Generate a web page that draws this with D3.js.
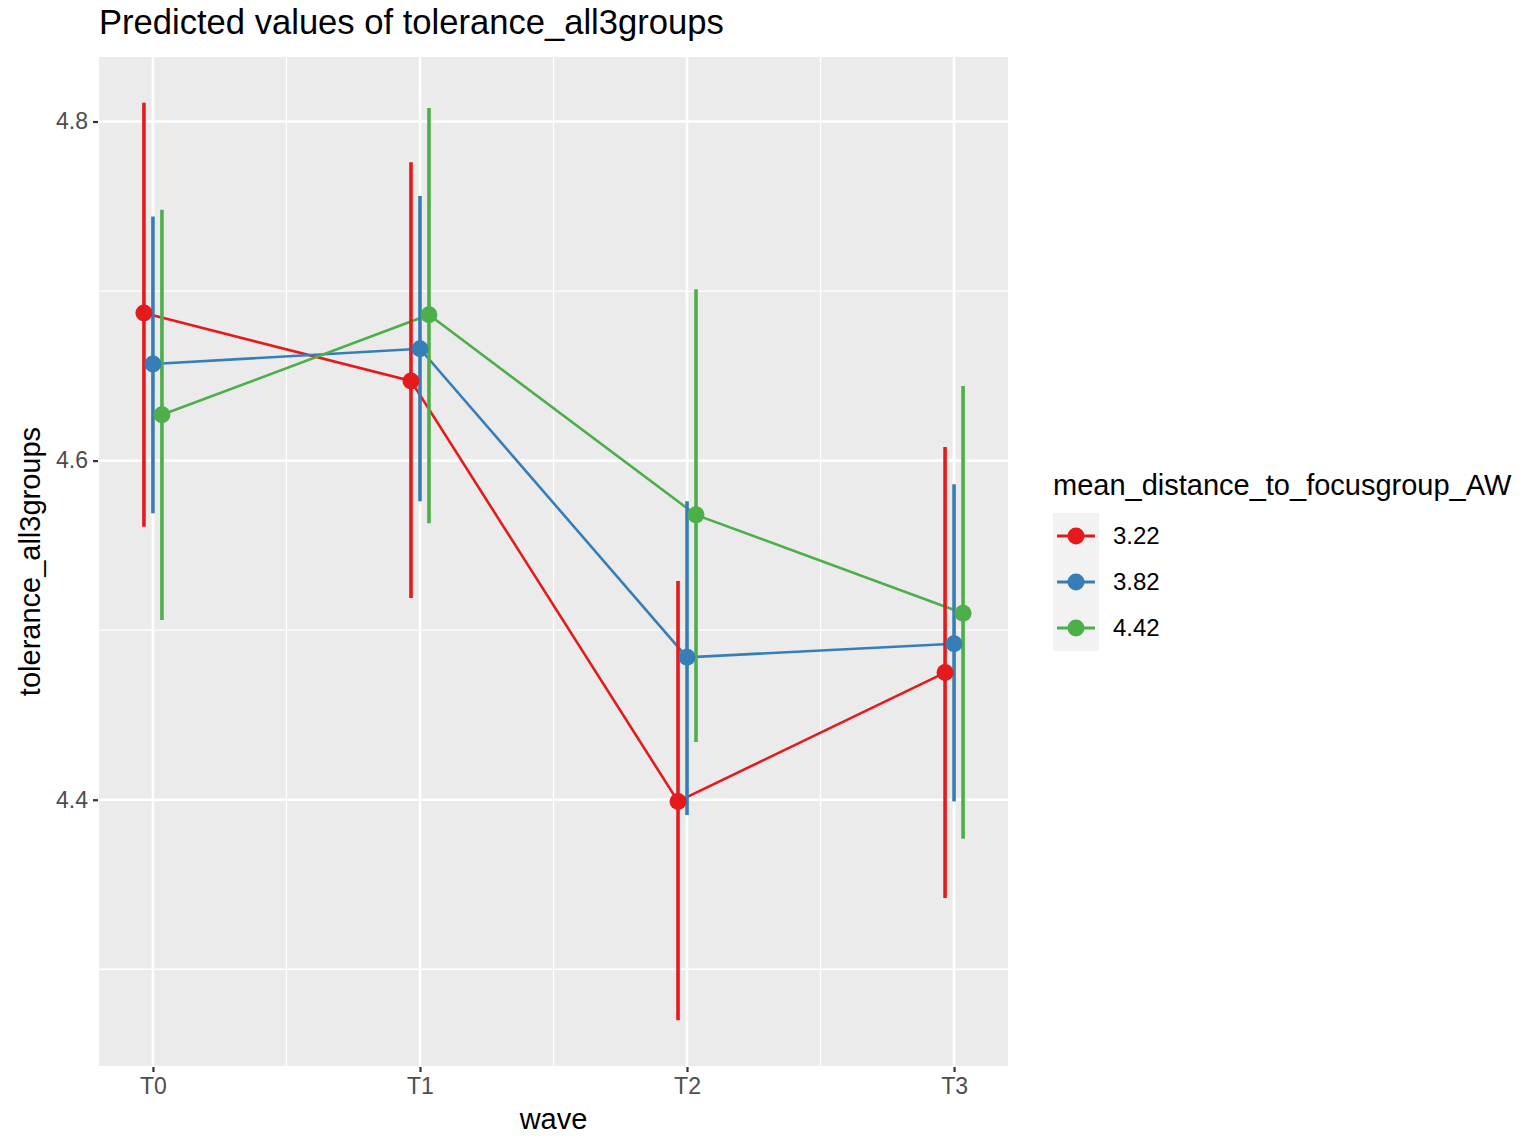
<!DOCTYPE html>
<html>
<head>
<meta charset="utf-8">
<script src="https://cdn.jsdelivr.net/npm/d3@7"></script>
<style>
  html, body { margin: 0; padding: 0; background: #ffffff; }
  svg { display: block; font-family: "Liberation Sans", Arial, sans-serif; }
</style>
</head>
<body>
<svg id="chart" width="1522" height="1139"></svg>
<script>
// Predicted values with 95% intervals, one series per moderator level
const waves = ["T0", "T1", "T2", "T3"];
const groups = ["3.22", "3.82", "4.42"];
const groupColors = ["#E41A1C", "#377EB8", "#4DAF4A"];

const predicted = {
  "3.22": [4.687, 4.647, 4.399, 4.475],
  "3.82": [4.657, 4.666, 4.484, 4.492],
  "4.42": [4.627, 4.686, 4.568, 4.510]
};
const lower = {
  "3.22": [4.561, 4.519, 4.270, 4.342],
  "3.82": [4.569, 4.576, 4.391, 4.399],
  "4.42": [4.506, 4.563, 4.434, 4.377]
};
const upper = {
  "3.22": [4.811, 4.776, 4.529, 4.608],
  "3.82": [4.744, 4.756, 4.576, 4.586],
  "4.42": [4.748, 4.808, 4.701, 4.644]
};
const yMajorTicks = [4.4, 4.6, 4.8];
const yMinorTicks = [4.3, 4.5, 4.7];

const titleText = "Predicted values of tolerance_all3groups";
const xTitle = "wave";
const yTitle = "tolerance_all3groups";
const legendTitle = "mean_distance_to_focusgroup_AW";

// Panel geometry
const panel = { left: 99, right: 1008, top: 57, bottom: 1066 };

const svg = d3.select("#chart");

// Scales
const x = d3.scalePoint().domain(waves).range([panel.left, panel.right]).padding(0.202);
const dodgeStep = x.step() * 0.0337;
const dodge = d3.scaleOrdinal().domain(groups).range([-dodgeStep, 0, dodgeStep]);
const color = d3.scaleOrdinal().domain(groups).range(groupColors);

const allLo = d3.min(groups, g => d3.min(lower[g]));
const allHi = d3.max(groups, g => d3.max(upper[g]));
const pad = (allHi - allLo) * 0.05;
const y = d3.scaleLinear().domain([allLo - pad, allHi + pad]).range([panel.bottom, panel.top]);

// Panel background
svg.append("rect")
  .attr("x", panel.left).attr("y", panel.top)
  .attr("width", panel.right - panel.left).attr("height", panel.bottom - panel.top)
  .attr("fill", "#EBEBEB");

const grid = svg.append("g");
// Minor horizontal grid
grid.selectAll(".hmin").data(yMinorTicks).join("line")
  .attr("x1", panel.left).attr("x2", panel.right)
  .attr("y1", d => y(d)).attr("y2", d => y(d))
  .attr("stroke", "#ffffff").attr("stroke-width", 1.3);
// Minor vertical grid between waves
const midpoints = waves.slice(1).map((w, i) => (x(waves[i]) + x(w)) / 2);
grid.selectAll(".vmin").data(midpoints).join("line")
  .attr("x1", d => d).attr("x2", d => d)
  .attr("y1", panel.top).attr("y2", panel.bottom)
  .attr("stroke", "#ffffff").attr("stroke-width", 1.3);
// Major grid
grid.selectAll(".hmaj").data(yMajorTicks).join("line")
  .attr("x1", panel.left).attr("x2", panel.right)
  .attr("y1", d => y(d)).attr("y2", d => y(d))
  .attr("stroke", "#ffffff").attr("stroke-width", 2.6);
grid.selectAll(".vmaj").data(waves).join("line")
  .attr("x1", d => x(d)).attr("x2", d => x(d))
  .attr("y1", panel.top).attr("y2", panel.bottom)
  .attr("stroke", "#ffffff").attr("stroke-width", 2.6);

// Axes
const yAxis = d3.axisLeft(y).tickValues(yMajorTicks).tickSize(5).tickPadding(5).tickFormat(d3.format(".1f"));
const yAxisG = svg.append("g").attr("transform", `translate(${panel.left - 1},0)`).call(yAxis);
const xAxis = d3.axisBottom(x).tickSize(5).tickPadding(5);
const xAxisG = svg.append("g").attr("transform", `translate(0,${panel.bottom + 1})`).call(xAxis);
[yAxisG, xAxisG].forEach(g => {
  g.select(".domain").remove();
  g.selectAll(".tick line").attr("stroke", "#333333").attr("stroke-width", 2.2);
  g.selectAll(".tick text").attr("fill", "#4D4D4D").attr("font-size", 23)
    .attr("font-family", "Liberation Sans, Arial, sans-serif");
});
xAxisG.selectAll(".tick text").attr("dy", "0.76em");

// Series
const series = groups.map(g => ({
  key: g,
  values: waves.map((w, i) => ({ wave: w, fit: predicted[g][i], lo: lower[g][i], hi: upper[g][i] }))
}));

const line = d3.line().x(d => d.cx).y(d => y(d.fit));
series.forEach(s => s.values.forEach(v => { v.cx = x(v.wave) + dodge(s.key); }));

const marks = svg.append("g");
marks.selectAll(".series-line").data(series).join("path")
  .attr("d", s => line(s.values))
  .attr("fill", "none")
  .attr("stroke", s => color(s.key))
  .attr("stroke-width", 2.6);

series.forEach(s => {
  marks.selectAll(null).data(s.values).join("line")
    .attr("x1", d => d.cx).attr("x2", d => d.cx)
    .attr("y1", d => y(d.lo)).attr("y2", d => y(d.hi))
    .attr("stroke", color(s.key))
    .attr("stroke-width", 3.6);
});
series.forEach(s => {
  marks.selectAll(null).data(s.values).join("circle")
    .attr("cx", d => d.cx).attr("cy", d => y(d.fit))
    .attr("r", 8.5)
    .attr("fill", color(s.key));
});

// Titles
svg.append("text").attr("x", panel.left).attr("y", 34)
  .attr("font-size", 34.6).attr("fill", "#000000").text(titleText);
svg.append("text").attr("x", (panel.left + panel.right) / 2).attr("y", 1129)
  .attr("text-anchor", "middle").attr("font-size", 29).attr("fill", "#000000").text(xTitle);
svg.append("text")
  .attr("transform", `translate(40,${(panel.top + panel.bottom) / 2}) rotate(-90)`)
  .attr("text-anchor", "middle").attr("font-size", 29).attr("fill", "#000000").text(yTitle);

// Legend
const legend = svg.append("g").attr("transform", "translate(1053,0)");
legend.append("text").attr("x", 0).attr("y", 495)
  .attr("font-size", 29).attr("fill", "#000000").text(legendTitle);
const keyH = 46, keyW = 46, keyTop = 513;
const keys = legend.selectAll(".key").data(groups).join("g")
  .attr("transform", (d, i) => `translate(0,${keyTop + i * keyH})`);
keys.append("rect").attr("width", keyW).attr("height", keyH).attr("fill", "#F2F2F2");
keys.append("line")
  .attr("x1", 4).attr("x2", keyW - 4).attr("y1", keyH / 2).attr("y2", keyH / 2)
  .attr("stroke", d => color(d)).attr("stroke-width", 3.2);
keys.append("circle").attr("cx", keyW / 2).attr("cy", keyH / 2).attr("r", 8.5)
  .attr("fill", d => color(d));
keys.append("text").attr("x", 60).attr("y", keyH / 2).attr("dy", "0.35em")
  .attr("font-size", 24).attr("fill", "#000000").text(d => d);
</script>
</body>
</html>
